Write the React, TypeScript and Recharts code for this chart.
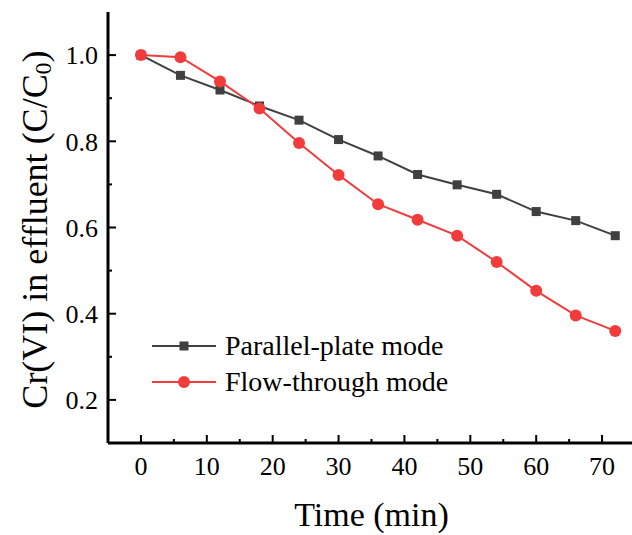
import { LineChart, Line, XAxis, YAxis, Legend, Label } from "recharts";

const FONT = '"Liberation Serif", "Times New Roman", serif';

// sampling times (min)
const times = [0, 6, 12, 18, 24, 30, 36, 42, 48, 54, 60, 66, 72];
// C/C0
const parallelPlate = [1.0, 0.953, 0.919, 0.882, 0.849, 0.804, 0.766, 0.723, 0.699, 0.677, 0.637, 0.616, 0.581];
const flowThrough = [1.0, 0.995, 0.939, 0.876, 0.796, 0.722, 0.654, 0.618, 0.581, 0.52, 0.453, 0.396, 0.36];

const seriesNames = ["Parallel-plate mode", "Flow-through mode"];
const seriesColors = ["#404040", "#f23c3c"];

const xMajorTicks = [0, 10, 20, 30, 40, 50, 60, 70];
const xMinorTicks = [5, 15, 25, 35, 45, 55, 65];
const yMajorTicks = [0.2, 0.4, 0.6, 0.8, 1.0];
const yMinorTicks = [0.3, 0.5, 0.7, 0.9];

const data = times.map((t, i) => ({
  time: t,
  parallel: parallelPlate[i],
  flow: flowThrough[i],
}));

const XTick = (props: any) => {
  const { x, y, payload } = props;
  const major = xMajorTicks.includes(payload.value);
  return (
    <g>
      <line x1={x} x2={x} y1={y} y2={y - (major ? 8 : 4)} stroke="#000" strokeWidth={2} />
      {major && (
        <text x={x} y={y + 32} textAnchor="middle" fontSize={26} fontFamily={FONT} fill="#000">
          {payload.value}
        </text>
      )}
    </g>
  );
};

const YTick = (props: any) => {
  const { x, y, payload } = props;
  const major = yMajorTicks.includes(payload.value);
  return (
    <g>
      <line x1={x} x2={x + (major ? 8 : 4)} y1={y} y2={y} stroke="#000" strokeWidth={2} />
      {major && (
        <text x={x - 10} y={y} dy="0.36em" textAnchor="end" fontSize={26} fontFamily={FONT} fill="#000">
          {payload.value.toFixed(1)}
        </text>
      )}
    </g>
  );
};

const SquareDot = (props: any) => {
  const { cx, cy, index } = props;
  return <rect key={`sq-${index}`} x={cx - 4.5} y={cy - 4.5} width={9} height={9} fill={seriesColors[0]} />;
};

const CircleDot = (props: any) => {
  const { cx, cy, index } = props;
  return <circle key={`ci-${index}`} cx={cx} cy={cy} r={6} fill={seriesColors[1]} />;
};

const YTitle = (props: any) => {
  const { viewBox } = props;
  const cx = viewBox.x + 35;
  const cy = viewBox.y + viewBox.height / 2 + 2;
  return (
    <text
      x={cx}
      y={cy}
      transform={`rotate(-90, ${cx}, ${cy})`}
      textAnchor="middle"
      dominantBaseline="central"
      fontSize={36}
      fontFamily={FONT}
      fill="#000"
    >
      <tspan>Cr(VI) in effluent (C/C</tspan>
      <tspan dy={8} fontSize={24}>0</tspan>
      <tspan dy={-8}>)</tspan>
    </text>
  );
};

const XTitle = (props: any) => {
  const { viewBox } = props;
  return (
    <text
      x={viewBox.x + viewBox.width / 2}
      y={viewBox.y + 83}
      textAnchor="middle"
      fontSize={34}
      fontFamily={FONT}
      fill="#000"
    >
      Time (min)
    </text>
  );
};

const LegendBox = () => (
  <div style={{ fontFamily: FONT, fontSize: 28, color: "#000" }}>
    {seriesNames.map((name, i) => (
      <div key={name} style={{ display: "flex", alignItems: "center", height: 36 }}>
        <svg width={73} height={36}>
          <line x1={0} x2={64} y1={18} y2={18} stroke={seriesColors[i]} strokeWidth={2} />
          {i === 0 ? (
            <rect x={27.5} y={13.5} width={9} height={9} fill={seriesColors[i]} />
          ) : (
            <circle cx={32} cy={18} r={6} fill={seriesColors[i]} />
          )}
        </svg>
        <span style={{ lineHeight: "36px", whiteSpace: "nowrap" }}>{name}</span>
      </div>
    ))}
  </div>
);

const App = () => {
  return (
    <div
      style={{
        position: "fixed",
        left: 0,
        top: 0,
        width: 632,
        height: 535,
        overflow: "hidden",
        background: "#fff",
      }}
    >
      <LineChart width={640} height={535} data={data} margin={{ top: 12, right: 5, bottom: 0, left: 0 }}>
        <XAxis
          dataKey="time"
          type="number"
          domain={[-5, 75]}
          allowDataOverflow
          ticks={[...xMajorTicks, ...xMinorTicks].sort((a, b) => a - b)}
          interval={0}
          tick={XTick}
          tickLine={false}
          tickSize={0}
          tickMargin={0}
          height={92}
          axisLine={{ stroke: "#000", strokeWidth: 3 }}
        >
          <Label content={XTitle} />
        </XAxis>
        <XAxis
          xAxisId="top"
          orientation="top"
          type="number"
          domain={[-5, 75]}
          allowDataOverflow
          height={0}
          tick={false}
          tickLine={false}
          axisLine={{ stroke: "#000", strokeWidth: 3 }}
        />
        <YAxis
          type="number"
          domain={[0.1, 1.1]}
          allowDataOverflow
          ticks={[...yMajorTicks, ...yMinorTicks].sort((a, b) => a - b)}
          interval={0}
          tick={YTick}
          tickLine={false}
          tickSize={0}
          tickMargin={0}
          width={108}
          axisLine={{ stroke: "#000", strokeWidth: 3 }}
        >
          <Label content={YTitle} />
        </YAxis>
        <YAxis
          yAxisId="right"
          orientation="right"
          type="number"
          domain={[0.1, 1.1]}
          width={0}
          tick={false}
          tickLine={false}
          axisLine={{ stroke: "#000", strokeWidth: 3 }}
        />
        <Legend
          layout="vertical"
          align="center"
          verticalAlign="middle"
          content={LegendBox}
          wrapperStyle={{ left: 152, top: 328, width: 340 }}
        />
        <Line
          dataKey="parallel"
          name={seriesNames[0]}
          stroke={seriesColors[0]}
          strokeWidth={2}
          dot={SquareDot}
          activeDot={false}
          isAnimationActive={false}
        />
        <Line
          dataKey="flow"
          name={seriesNames[1]}
          stroke={seriesColors[1]}
          strokeWidth={2}
          dot={CircleDot}
          activeDot={false}
          isAnimationActive={false}
        />
      </LineChart>
    </div>
  );
};

export default App;
